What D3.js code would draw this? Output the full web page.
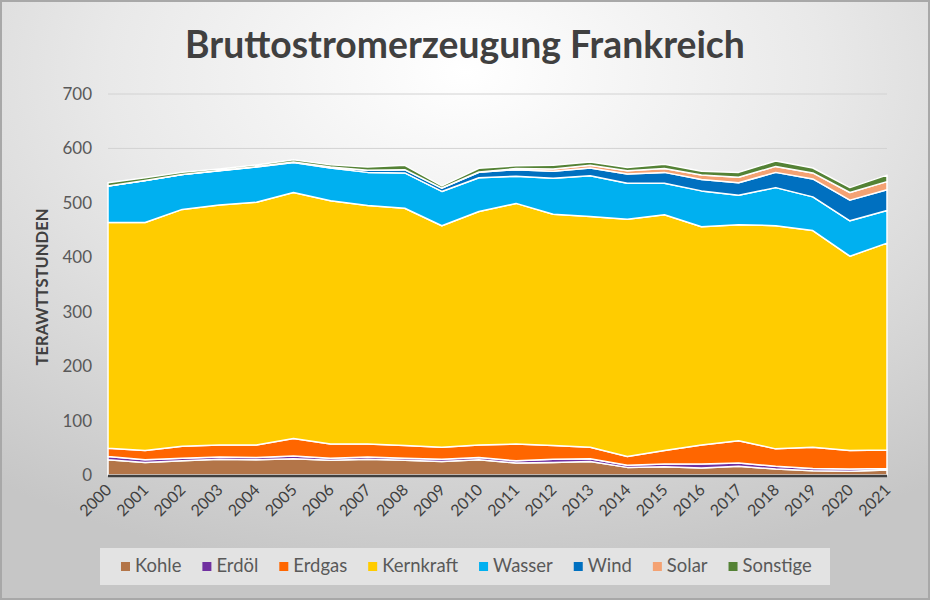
<!DOCTYPE html>
<html><head><meta charset="utf-8">
<script src="https://cdn.jsdelivr.net/npm/d3@7"></script>
<style>html,body{margin:0;padding:0;background:#fff}svg{display:block}</style>
</head><body>
<svg id="chart" width="930" height="600"></svg>
<script>
const years = [2000,2001,2002,2003,2004,2005,2006,2007,2008,2009,2010,2011,2012,2013,2014,2015,2016,2017,2018,2019,2020,2021];
const kohle    = [28,23,26,29,28,30,27,29,27,25,28,22,23,25,14,15,13,16,11,8,7,9];
const erdoel   = [6,5,5,4,4,5,4,4,4,4,4,4,6,5,4,5,7,6,5,4,4,3];
const erdgas   = [15,17,22,22,23,32,26,24,23,22,23,31,25,21,16,25,35,41,32,39,34,34];
const kernkraft= [415,419,435,441,446,452,447,438,436,407,429,442,425,424,436,433,401,397,410,398,357,380];
const wasser   = [67,77,64,63,65,55,60,61,65,63,62,50,66,75,66,58,66,54,70,62,65,60];
const wind     = [0.1,0.1,0.3,0.4,0.6,1,2,4,6,6,10,12,13,14,17,20,21,23,28,33,38,38];
const solar    = [0,0,0,0,0,0,0,0,0,0.2,0.6,2,4,5,6,7,8,10,11,11,14,15];
const sonstige = [6,5,4,3,3,4,4,6,8,4,7,5,7,6,6,8,7,9,10,9,9,12];
const seriesNames = ["Kohle","Erdöl","Erdgas","Kernkraft","Wasser","Wind","Solar","Sonstige"];
const seriesColors = ["#B37548","#7030A0","#FF6600","#FFCC00","#00B0F0","#0070C0","#F4A273","#548235"];
const yTicks = [0,100,200,300,400,500,600,700];
const titleText = "Bruttostromerzeugung Frankreich";
const yAxisTitle = "TERAWTTSTUNDEN";

const seriesValues = [kohle,erdoel,erdgas,kernkraft,wasser,wind,solar,sonstige];
const rows = years.map((y,i)=>{const r={year:y}; seriesNames.forEach((n,k)=>r[n]=seriesValues[k][i]); return r;});

const svg = d3.select("#chart");
const W=930,H=600;
const defs = svg.append("defs");
const rg = defs.append("radialGradient").attr("id","bg").attr("cx","50%").attr("cy","12%").attr("r","85%")
  .attr("gradientUnits","objectBoundingBox");
rg.append("stop").attr("offset","0%").attr("stop-color","#ffffff");
rg.append("stop").attr("offset","45%").attr("stop-color","#e9e9e9");
rg.append("stop").attr("offset","100%").attr("stop-color","#c6c6c6");
svg.append("rect").attr("x",0).attr("y",0).attr("width",W).attr("height",H).attr("fill","url(#bg)");
svg.append("rect").attr("x",1).attr("y",1).attr("width",W-2).attr("height",H-2).attr("fill","none").attr("stroke","#a8a8a8").attr("stroke-width",2);

const x = d3.scaleLinear().domain([years[0],years[years.length-1]]).range([108,887]);
const y = d3.scaleLinear().domain([0,700]).range([475,94]);

// gridlines
svg.append("g").selectAll("line").data(yTicks.filter(t=>t>0)).join("line")
  .attr("x1",x.range()[0]).attr("x2",x.range()[1]).attr("y1",d=>y(d)).attr("y2",d=>y(d))
  .attr("stroke","#d2d2d2").attr("stroke-width",1);

const stack = d3.stack().keys(seriesNames);
const stacked = stack(rows);
const area = d3.area().x(d=>x(d.data.year)).y0(d=>y(d[0])).y1(d=>y(d[1]));
svg.append("g").selectAll("path").data(stacked).join("path")
  .attr("d",area).attr("fill",(d,i)=>seriesColors[i])
  .attr("stroke","#ffffff").attr("stroke-width",1.5).attr("stroke-linejoin","round");

// bottom axis line
svg.append("line").attr("x1",x.range()[0]).attr("x2",x.range()[1]).attr("y1",y(0)+1).attr("y2",y(0)+1)
  .attr("stroke","#404040").attr("stroke-width",2.5);

// y axis labels
const yAxis = d3.axisLeft(y).tickValues(yTicks).tickSize(0).tickPadding(0);
const yg = svg.append("g").attr("transform","translate(92,0)").call(yAxis);
yg.select(".domain").remove();
yg.selectAll("text").attr("font-family","Lato, 'Open Sans', sans-serif").attr("font-size",17).attr("fill","#595959");

// x axis labels
const xAxis = d3.axisBottom(x).tickValues(years).tickFormat(d3.format("d")).tickSize(0).tickPadding(0);
const xg = svg.append("g").attr("transform","translate(0,"+(y(0))+")").call(xAxis);
xg.select(".domain").remove();
xg.selectAll("text").attr("font-family","Lato, 'Open Sans', sans-serif").attr("font-size",16).attr("fill","#404040")
  .attr("text-anchor","end").attr("dy",0)
  .attr("transform","translate(4,16) rotate(-45)");

// title
const title = svg.append("text").attr("x",465).attr("y",58).attr("text-anchor","middle")
  .attr("font-family","Lato, 'Open Sans', sans-serif").attr("font-weight","bold").attr("font-size",36)
  .attr("fill","#404040").text(titleText);
const tw = title.node().getComputedTextLength();
title.attr("font-size",36*560/tw);

// y axis title
const yt = svg.append("text").attr("transform","translate(48,287) rotate(-90)").attr("text-anchor","middle")
  .attr("font-family","Lato, 'Open Sans', sans-serif").attr("font-weight","bold").attr("font-size",15)
  .attr("fill","#404040").text(yAxisTitle);
const ytw = yt.node().getComputedTextLength();
yt.attr("font-size",15*157/ytw);

// legend
svg.append("rect").attr("x",100).attr("y",548).attr("width",730).attr("height",37).attr("fill","#e3e3e3");
const lg = svg.append("g");
let fs = 17;
const items = lg.selectAll("g").data(seriesNames).join("g");
items.append("rect").attr("width",9).attr("height",9).attr("fill",(d,i)=>seriesColors[i]);
const txt = items.append("text").attr("font-family","Lato, 'Open Sans', sans-serif").attr("font-size",fs)
  .attr("fill","#595959").attr("x",14).attr("y",9).text(d=>d);
let widths = txt.nodes().map(n=>n.getComputedTextLength());
const gap=21;
const totalTarget = 812-121;
let total = widths.reduce((a,b)=>a+b,0)+seriesNames.length*14+(seriesNames.length-1)*gap;
const scaleF = (totalTarget - seriesNames.length*14-(seriesNames.length-1)*gap)/widths.reduce((a,b)=>a+b,0);
fs = fs*scaleF;
txt.attr("font-size",fs);
widths = txt.nodes().map(n=>n.getComputedTextLength());
let cx = 121;
items.each(function(d,i){ d3.select(this).attr("transform","translate("+cx+",562)"); cx += 14+widths[i]+gap; });
txt.attr("y",10);
</script>
</body></html>
